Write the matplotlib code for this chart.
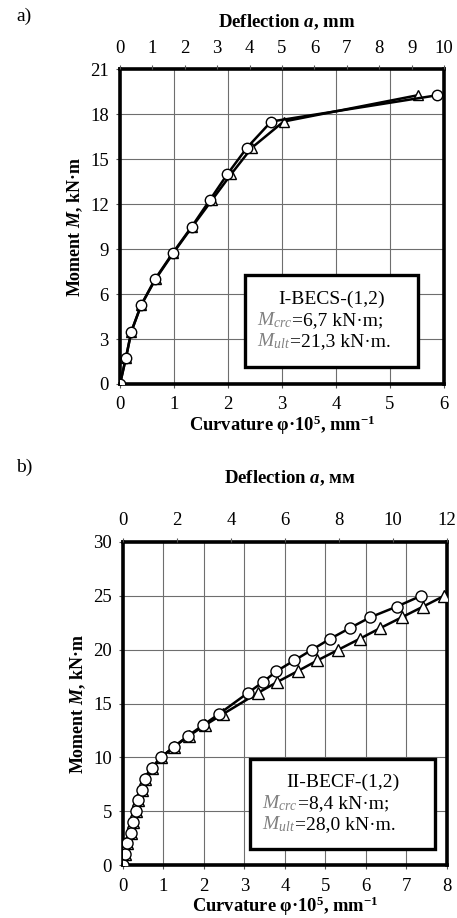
import matplotlib
matplotlib.use("Agg")
import matplotlib.pyplot as plt
import numpy as np

plt.rcParams['font.family'] = ['Liberation Serif', 'DejaVu Serif']
plt.rcParams['mathtext.fontset'] = 'custom'
plt.rcParams['mathtext.rm'] = 'Liberation Serif'
plt.rcParams['mathtext.it'] = 'Liberation Serif:italic'
plt.rcParams['mathtext.bf'] = 'Liberation Serif:bold'
plt.rcParams['mathtext.bfit'] = 'Liberation Serif:italic:bold'

# panel a) I-BECS-(1,2)
a_M_circ = [0, 1.75, 3.5, 5.25, 7, 8.75, 10.5, 12.25, 14, 15.75, 17.5, 19.25]
a_k_circ = [0, 0.11, 0.21, 0.39, 0.65, 0.98, 1.33, 1.66, 1.99, 2.35, 2.80, 5.87]
a_M_tri = [0, 1.75, 3.5, 5.25, 7, 8.75, 10.5, 12.25, 14, 15.75, 17.5, 19.25]
a_k_tri = [0, 0.11, 0.21, 0.39, 0.66, 0.99, 1.34, 1.70, 2.06, 2.44, 3.03, 5.51]

# panel b) II-BECF-(1,2)
b_M_circ = [0, 1, 2, 3, 4, 5, 6, 7, 8, 9, 10, 11, 12, 13, 14, 16, 17, 18, 19, 20, 21, 22, 23, 24, 25]
b_k_circ = [0, 0.04, 0.11, 0.20, 0.25, 0.32, 0.38, 0.46, 0.54, 0.71, 0.94, 1.26, 1.61, 1.98, 2.36,
            3.09, 3.46, 3.79, 4.23, 4.67, 5.11, 5.60, 6.10, 6.76, 7.36]
b_M_tri = [0, 1, 2, 3, 4, 5, 6, 7, 8, 9, 10, 11, 12, 13, 14, 16, 17, 18, 19, 20, 21, 22, 23, 24, 25]
b_k_tri = [0, 0.04, 0.11, 0.20, 0.25, 0.32, 0.38, 0.46, 0.54, 0.71, 0.94, 1.27, 1.63, 2.03, 2.46,
           3.34, 3.81, 4.31, 4.80, 5.32, 5.84, 6.35, 6.88, 7.41, 7.93]

fig = plt.figure(figsize=(4.57, 9.18), dpi=100)

def panel(rect, kc, mc, kt, mt, xmax, ymax, ystep, defl_max, defl_step, defl_label,
          toplabel_y, box, title, crc, ult, msize):
    ax = fig.add_axes(rect)
    ax.plot(kt, mt, '-', color='black', lw=1.8, marker='^', ms=msize, mfc='white', mec='black', mew=1.0, zorder=3)
    ax.plot(kc, mc, '-', color='black', lw=1.8, marker='o', ms=msize, mfc='white', mec='black', mew=1.0, zorder=4)
    ax.set_xlim(0, xmax)
    ax.set_ylim(0, ymax)
    ax.set_xticks(np.arange(0, xmax + 1, 1))
    ax.set_yticks(np.arange(0, ymax + 1, ystep))
    ax.grid(True, color='#6e6e6e', lw=0.8)
    ax.set_axisbelow(True)
    for s in ax.spines.values():
        s.set_linewidth(2.6)
    ax.tick_params(axis='x', direction='out', length=3, width=0.8, labelsize=13.5, color='#555555', pad=6)
    ax.tick_params(axis='y', direction='out', length=3, width=0.8, labelsize=13.5, color='#555555', pad=5)
    ax.set_xlabel('Curvature φ·10$^{\\mathbf{5}}$, mm$^{\\mathbf{-1}}$', fontsize=13.3, fontweight='bold', labelpad=0)
    ax.set_ylabel('Moment $\\mathbfit{M}$, kN·m', fontsize=13, fontweight='bold', labelpad=4)
    top = ax.twiny()
    top.set_xlim(0, defl_max)
    top.set_xticks(np.arange(0, defl_max + 1, defl_step))
    top.tick_params(direction='out', length=3, width=0.8, labelsize=13.5, color='#555555', pad=6)
    for s in top.spines.values():
        s.set_visible(False)
    fig.text(rect[0] + rect[2] / 2 + 0.01, toplabel_y, defl_label, fontsize=13.5, fontweight='bold', ha='center', va='center')

    # text box
    bx0, by0, bx1, by1 = box
    ax.add_patch(plt.Rectangle((bx0, by0), bx1 - bx0, by1 - by0, transform=ax.transAxes,
                               fill=True, fc='white', ec='black', lw=2.4, zorder=5))
    h = by1 - by0
    ax.text((bx0 + bx1) / 2, by1 - h * 0.31, title, transform=ax.transAxes, fontsize=14,
            ha='center', va='baseline', zorder=6)
    xl = bx0 + (bx1 - bx0) * 0.065
    lines = [(crc, '$M_{crc}$', by1 - h * 0.55), (ult, '$M_{ult}$', by1 - h * 0.78)]
    for rest, sym, yy in lines:
        t1 = ax.text(xl, yy, sym, transform=ax.transAxes, fontsize=14, color='#808080',
                     ha='left', va='baseline', zorder=6)
        fig.canvas.draw()
        bb = t1.get_window_extent()
        xx = ax.transAxes.inverted().transform((bb.x1, 0))[0]
        ax.text(xx, yy, rest, transform=ax.transAxes, fontsize=14, ha='left', va='baseline', zorder=6)
    return ax

panel([0.2626, 0.5817, 0.7090, 0.3431], a_k_circ, a_M_circ, a_k_tri, a_M_tri, 6, 21, 3, 10, 1,
      'Deflection $\\mathbfit{a}$, mm', 0.976,
      (0.387, 0.055, 0.920, 0.345), 'I-BECS-(1,2)', '=6,7 kN·m;', '=21,3 kN·m.', 7.5)

panel([0.2691, 0.0577, 0.7090, 0.3519], b_k_circ, b_M_circ, b_k_tri, b_M_tri, 8, 30, 5, 12, 2,
      'Deflection $\\mathbfit{a}$, мм', 0.479,
      (0.393, 0.050, 0.963, 0.328), 'II-BECF-(1,2)', '=8,4 kN·m;', '=28,0 kN·m.', 8)

fig.text(0.036, 0.982, 'a)', fontsize=14, va='center')
fig.text(0.036, 0.491, 'b)', fontsize=14, va='center')

fig.savefig('out.png', dpi=100)
